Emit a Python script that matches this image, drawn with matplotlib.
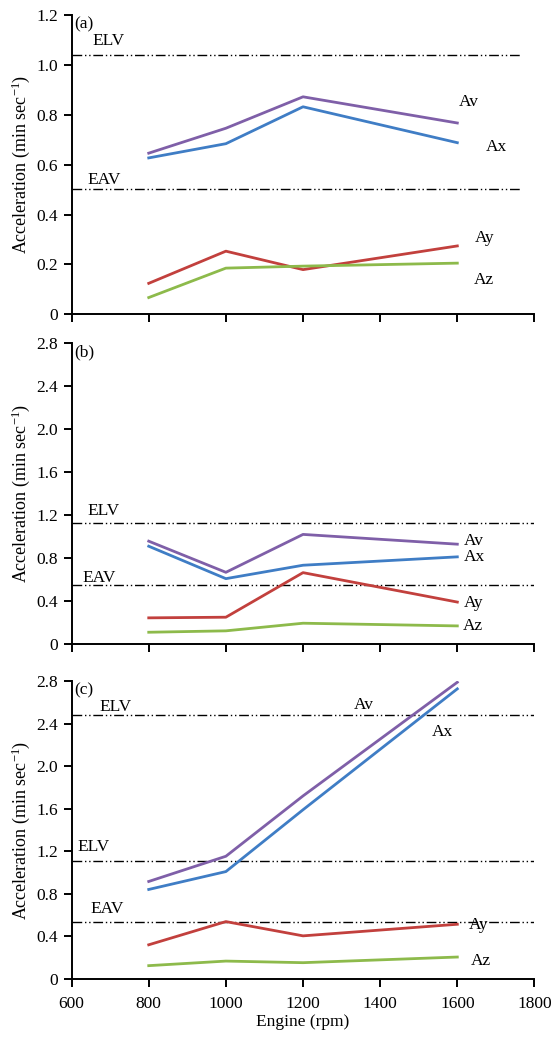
import numpy as np
import matplotlib
matplotlib.use('Agg')
import matplotlib.pyplot as plt
from matplotlib.ticker import FuncFormatter

plt.rcParams['font.family'] = ['Liberation Serif', 'DejaVu Serif']
plt.rcParams['mathtext.fontset'] = 'custom'
plt.rcParams['mathtext.rm'] = 'Liberation Serif'
plt.rcParams['mathtext.it'] = 'Liberation Serif:italic'

# Engine speeds
rpm = [800, 1000, 1200, 1600]

# Panel (a)
a_av = [0.646, 0.746, 0.872, 0.767]
a_ax = [0.627, 0.684, 0.832, 0.688]
a_ay = [0.124, 0.253, 0.179, 0.274]
a_az = [0.067, 0.185, 0.193, 0.205]
a_elv = 1.041
a_eav = 0.502

# Panel (b)
b_av = [0.957, 0.667, 1.020, 0.929]
b_ax = [0.910, 0.608, 0.733, 0.811]
b_ay = [0.243, 0.249, 0.664, 0.390]
b_az = [0.109, 0.122, 0.193, 0.168]
b_elv = 1.129
b_eav = 0.546

# Panel (c)
c_av = [0.916, 1.153, 1.72, 2.788]
c_ax = [0.841, 1.009, 1.59, 2.726]
c_ay = [0.321, 0.539, 0.405, 0.514]
c_az = [0.125, 0.168, 0.153, 0.206]
c_elv = [2.477, 1.112]
c_eav = 0.536

colors = {'Av': '#7f5fa8', 'Ax': '#3f7dc5', 'Ay': '#c2403d', 'Az': '#8dba4b'}
refstyle = dict(color='black', linewidth=1.0, linestyle=(0, (7, 2, 1, 2, 1, 2)))

fig = plt.figure(figsize=(5.55, 10.43), dpi=100)
ax_a = fig.add_axes([0.129, 0.6987, 0.834, 0.2869])
ax_b = fig.add_axes([0.129, 0.3826, 0.834, 0.2883])
ax_c = fig.add_axes([0.129, 0.0614, 0.834, 0.2857])

fmt = FuncFormatter(lambda v, p: '0' if abs(v) < 1e-9 else f'{v:.1f}')


def style(ax, ymax, ystep, panel):
    ax.set_xlim(600, 1800)
    ax.set_ylim(0, ymax)
    ax.set_xticks(np.arange(600, 1801, 200))
    ax.set_yticks(np.arange(0, ymax + 1e-9, ystep))
    ax.yaxis.set_major_formatter(fmt)
    for s in ['top', 'right']:
        ax.spines[s].set_visible(False)
    for s in ['left', 'bottom']:
        ax.spines[s].set_linewidth(1.4)
    ax.tick_params(direction='out', length=6, width=1.4, labelsize=12.5)
    ax.tick_params(axis='y', pad=4)
    ax.tick_params(axis='x', pad=6)
    ax.set_ylabel('Acceleration (min sec$^{-1}$)', fontsize=13, labelpad=3)
    ax.text(0.006, 0.995, panel, transform=ax.transAxes, fontsize=12.5,
            va='top', ha='left')


def series(ax, av, axv, ay, az):
    ax.plot(rpm, av, color=colors['Av'], lw=2)
    ax.plot(rpm, axv, color=colors['Ax'], lw=2)
    ax.plot(rpm, ay, color=colors['Ay'], lw=2)
    ax.plot(rpm, az, color=colors['Az'], lw=2)


# (a)
style(ax_a, 1.2, 0.2, '(a)')
ax_a.hlines([a_elv, a_eav], 600, 1765, **refstyle)
series(ax_a, a_av, a_ax, a_ay, a_az)
ax_a.text(655, 1.096, 'ELV', fontsize=12.5, va='center')
ax_a.text(641, 0.54, 'EAV', fontsize=12.5, va='center')
ax_a.text(1604, 0.851, 'Av', fontsize=12.5, va='center')
ax_a.text(1673, 0.67, 'Ax', fontsize=12.5, va='center')
ax_a.text(1645, 0.305, 'Ay', fontsize=12.5, va='center')
ax_a.text(1643, 0.137, 'Az', fontsize=12.5, va='center')
ax_a.set_xticklabels([])

# (b)
style(ax_b, 2.8, 0.4, '(b)')
ax_b.hlines([b_elv, b_eav], 600, 1800, **refstyle)
series(ax_b, b_av, b_ax, b_ay, b_az)
ax_b.text(641, 1.24, 'ELV', fontsize=12.5, va='center')
ax_b.text(628, 0.617, 'EAV', fontsize=12.5, va='center')
ax_b.text(1618, 0.96, 'Av', fontsize=12.5, va='center')
ax_b.text(1618, 0.81, 'Ax', fontsize=12.5, va='center')
ax_b.text(1618, 0.38, 'Ay', fontsize=12.5, va='center')
ax_b.text(1614, 0.17, 'Az', fontsize=12.5, va='center')
ax_b.set_xticklabels([])

# (c)
style(ax_c, 2.8, 0.4, '(c)')
ax_c.hlines(c_elv + [c_eav], 600, 1800, **refstyle)
series(ax_c, c_av, c_ax, c_ay, c_az)
ax_c.text(672, 2.56, 'ELV', fontsize=12.5, va='center')
ax_c.text(614, 1.237, 'ELV', fontsize=12.5, va='center')
ax_c.text(650, 0.66, 'EAV', fontsize=12.5, va='center')
ax_c.text(1331, 2.576, 'Av', fontsize=12.5, va='center')
ax_c.text(1535, 2.318, 'Ax', fontsize=12.5, va='center')
ax_c.text(1631, 0.505, 'Ay', fontsize=12.5, va='center')
ax_c.text(1634, 0.171, 'Az', fontsize=12.5, va='center')
ax_c.set_xlabel('Engine (rpm)', fontsize=12.5, labelpad=2)

fig.savefig('out.png', dpi=100)
